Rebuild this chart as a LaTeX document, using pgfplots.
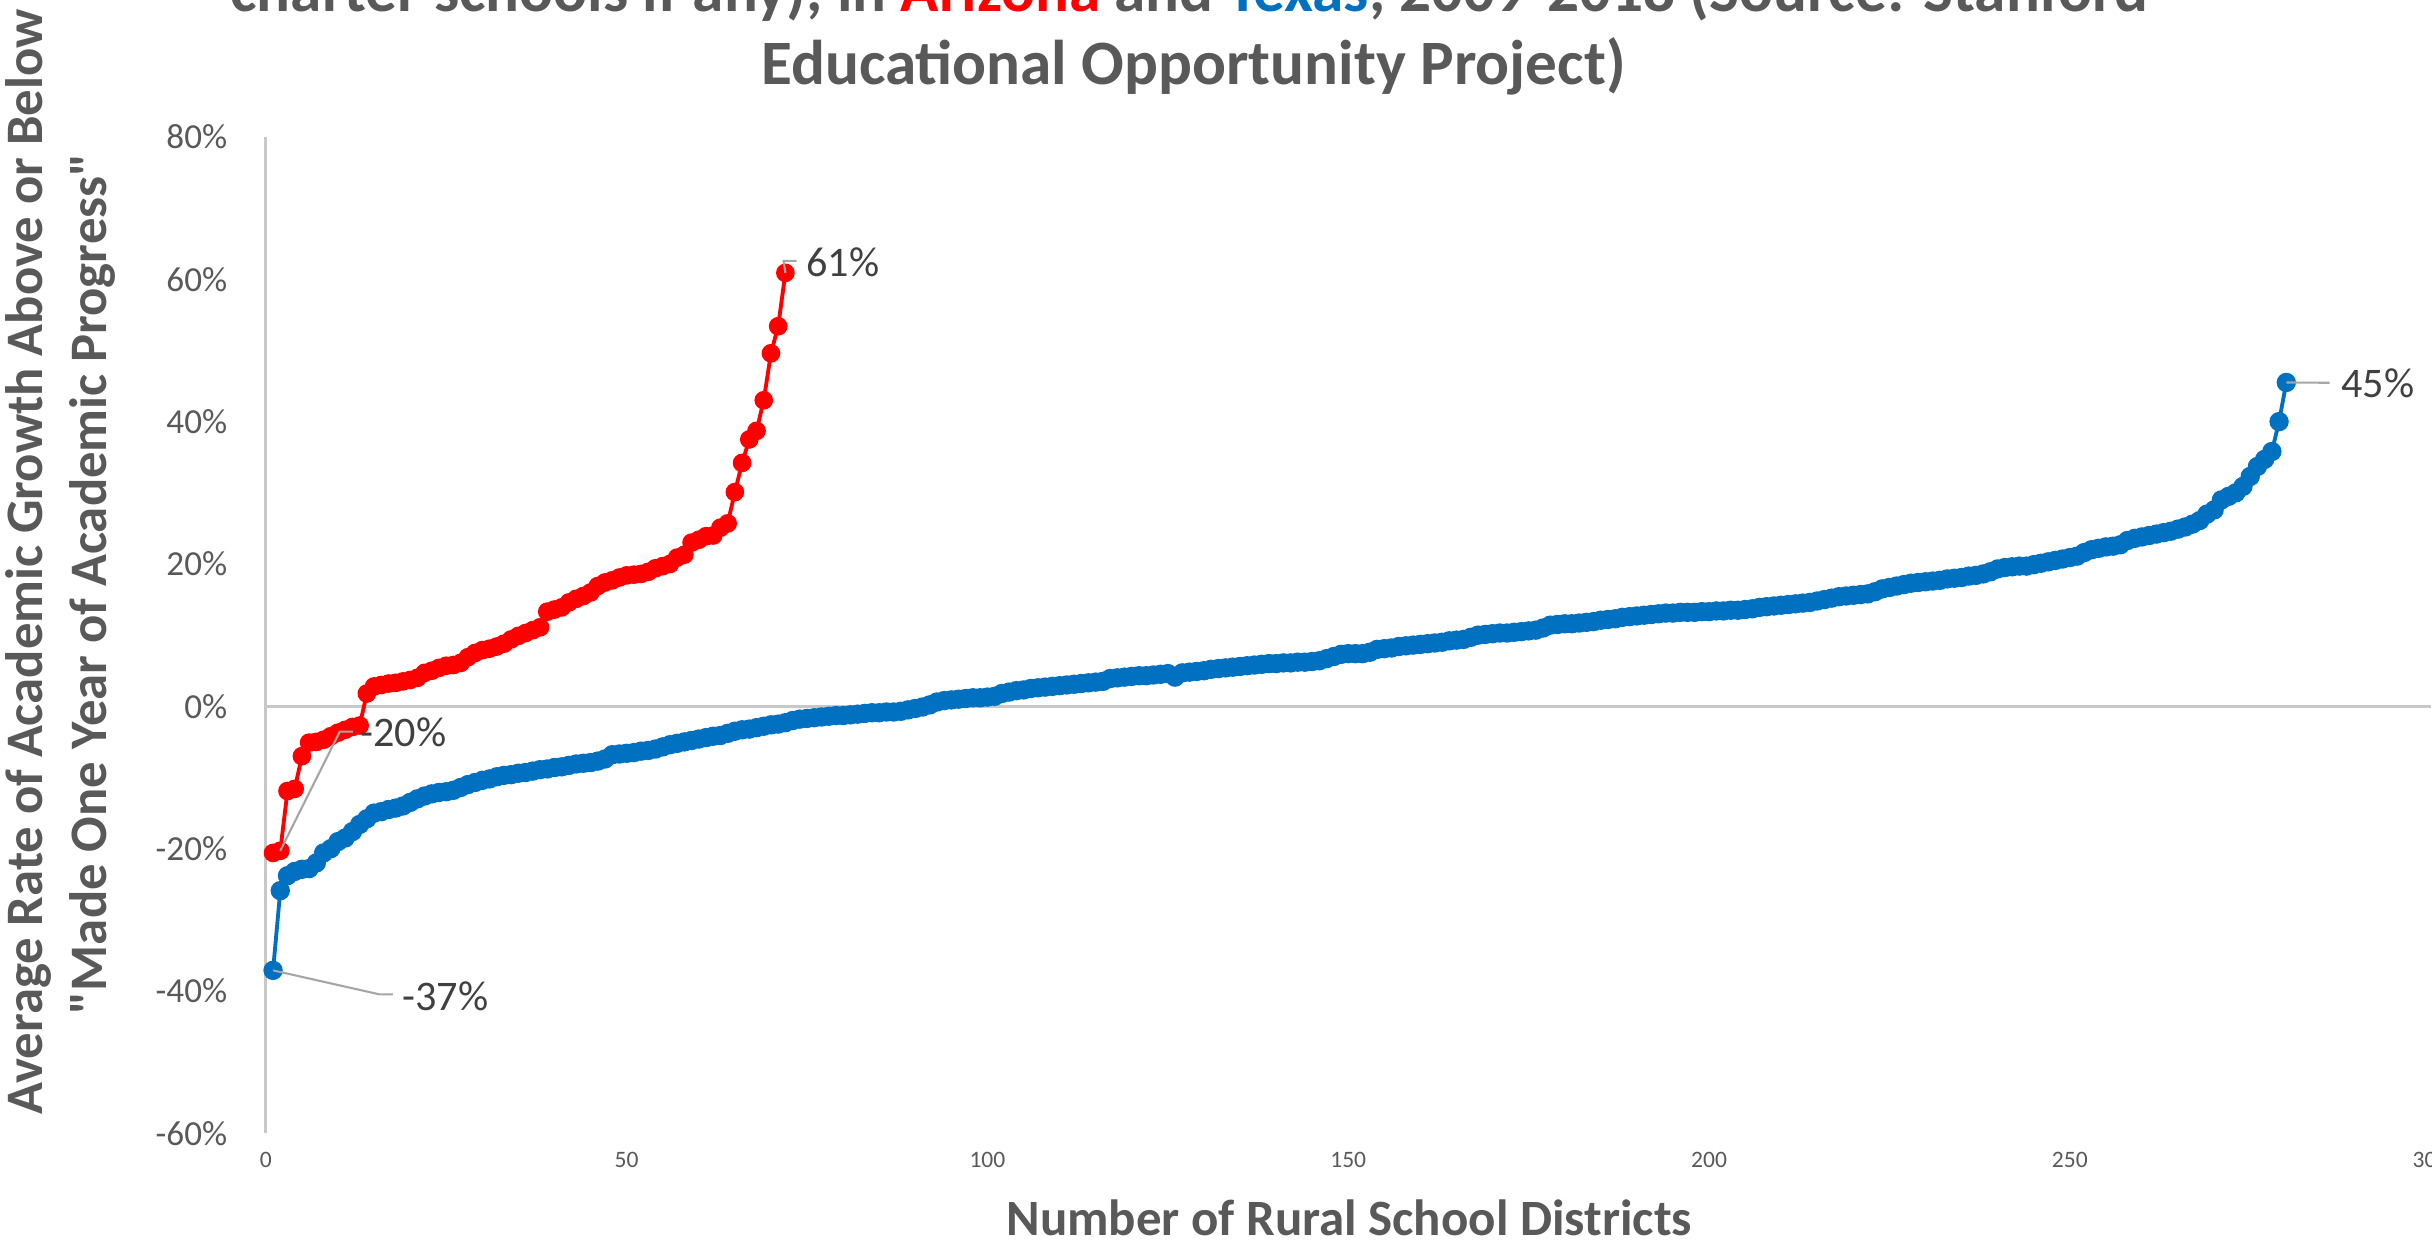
\documentclass[border=0pt]{standalone}
\usepackage{fontspec}
\setmainfont{Carlito}
\usepackage{pgfplots}
\pgfplotsset{compat=1.18}
\definecolor{azred}{RGB}{255,0,0}
\definecolor{txblue}{RGB}{0,112,192}
\definecolor{txtgray}{RGB}{89,89,89}
\definecolor{lblgray}{RGB}{64,64,64}
\definecolor{axgray}{RGB}{200,200,200}
\definecolor{leadgray}{RGB}{166,166,166}
% straight double quote, not turned into a curly one by the tex-text mapping
\newcommand\sq{\XeTeXglyph\XeTeXcharglyph"22\relax}

\begin{document}
\begin{tikzpicture}[x=0.1mm,y=0.1mm]
% page frame: everything that overhangs it is drawn as overlay and gets cut
\path (0,0) rectangle (2432,1246);
\begin{axis}[
  at={(26.6mm,11.2mm)}, anchor=south west,
  scale only axis, width=216.6mm, height=99.7mm,
  xmin=0, xmax=300, ymin=-60, ymax=80,
  clip=false,
  axis line style={draw=none},
  major tick length=0pt,
  xtick={0,50,...,300},
  xticklabels={0,50,100,150,200,250,300},
  ytick={-60,-40,...,80},
  yticklabels={-60\%,-40\%,-20\%,0\%,20\%,40\%,60\%,80\%},
  yticklabel style={font=\fontsize{10}{12}\selectfont, text=txtgray, anchor=east, inner sep=0pt, xshift=-10.8pt},
  xticklabel style={overlay, font=\fontsize{6.7}{8}\selectfont, text=txtgray, anchor=north, inner sep=0pt, yshift=-5.3pt},
]
% axis lines
\draw[axgray, line width=0.8pt] (axis cs:0,-60) -- (axis cs:0,80);
\draw[axgray, line width=0.8pt] (axis cs:0,0) -- (axis cs:300,0);

% Arizona
\addplot[azred, line width=1.1pt, mark=*, mark size=2.1pt, mark options={solid}] coordinates {
(1,-20.6)(2,-20.3)(3,-11.9)(4,-11.6)(5,-7.0)(6,-5.1)(7,-5.0)(8,-4.7)(9,-4.2)(10,-3.7)
(11,-3.3)(12,-2.9)(13,-2.7)(14,1.8)(15,2.8)(16,3.0)(17,3.2)(18,3.3)(19,3.5)(20,3.7)
(21,4.0)(22,4.7)(23,5.0)(24,5.4)(25,5.7)(26,5.8)(27,6.1)(28,6.9)(29,7.5)(30,7.9)
(31,8.1)(32,8.4)(33,8.8)(34,9.4)(35,9.9)(36,10.3)(37,10.7)(38,11.1)(39,13.3)(40,13.6)
(41,13.9)(42,14.6)(43,15.1)(44,15.5)(45,16.0)(46,16.9)(47,17.4)(48,17.7)(49,18.1)(50,18.4)
(51,18.5)(52,18.6)(53,18.9)(54,19.4)(55,19.7)(56,20.0)(57,20.9)(58,21.3)(59,23.0)(60,23.4)
(61,23.9)(62,24.0)(63,25.1)(64,25.7)(65,30.1)(66,34.2)(67,37.5)(68,38.7)(69,43.0)(70,49.6)
(71,53.4)(72,60.9)
};
\coordinate (a2) at (axis cs:2,-20.3);
\coordinate (a72) at (axis cs:72,60.9);

% Texas
\addplot[txblue, line width=1.1pt, mark=*, mark size=2.2pt, mark options={solid}] coordinates {
(1,-37.1)(2,-25.9)(3,-23.8)(4,-23.2)(5,-22.9)(6,-22.8)(7,-22.0)(8,-20.6)(9,-20.0)(10,-19.0)
(11,-18.5)(12,-17.6)(13,-16.6)(14,-15.8)(15,-15.0)(16,-14.8)(17,-14.5)(18,-14.3)(19,-14.0)(20,-13.5)
(21,-13.0)(22,-12.6)(23,-12.3)(24,-12.1)(25,-12.0)(26,-11.8)(27,-11.4)(28,-11.0)(29,-10.7)(30,-10.4)
(31,-10.2)(32,-9.9)(33,-9.7)(34,-9.6)(35,-9.4)(36,-9.3)(37,-9.1)(38,-8.9)(39,-8.8)(40,-8.6)
(41,-8.5)(42,-8.3)(43,-8.1)(44,-8.0)(45,-7.9)(46,-7.7)(47,-7.4)(48,-6.8)(49,-6.7)(50,-6.6)
(51,-6.5)(52,-6.3)(53,-6.2)(54,-6.0)(55,-5.7)(56,-5.4)(57,-5.2)(58,-5.0)(59,-4.8)(60,-4.6)
(61,-4.4)(62,-4.2)(63,-4.1)(64,-3.8)(65,-3.5)(66,-3.3)(67,-3.2)(68,-3.0)(69,-2.8)(70,-2.6)
(71,-2.5)(72,-2.3)(73,-2.0)(74,-1.8)(75,-1.7)(76,-1.6)(77,-1.5)(78,-1.4)(79,-1.3)(80,-1.3)
(81,-1.2)(82,-1.1)(83,-1.0)(84,-0.9)(85,-0.9)(86,-0.8)(87,-0.8)(88,-0.7)(89,-0.5)(90,-0.3)
(91,-0.1)(92,0.2)(93,0.6)(94,0.8)(95,0.9)(96,1.0)(97,1.1)(98,1.2)(99,1.2)(100,1.3)
(101,1.4)(102,1.8)(103,2.0)(104,2.2)(105,2.3)(106,2.5)(107,2.6)(108,2.7)(109,2.8)(110,2.9)
(111,3.0)(112,3.1)(113,3.2)(114,3.3)(115,3.4)(116,3.5)(117,3.9)(118,4.0)(119,4.1)(120,4.2)
(121,4.3)(122,4.3)(123,4.4)(124,4.5)(125,4.6)(126,4.1)(127,4.7)(128,4.8)(129,4.9)(130,5.0)
(131,5.2)(132,5.3)(133,5.4)(134,5.5)(135,5.6)(136,5.7)(137,5.8)(138,5.9)(139,6.0)(140,6.0)
(141,6.1)(142,6.1)(143,6.2)(144,6.2)(145,6.3)(146,6.4)(147,6.7)(148,7.0)(149,7.3)(150,7.4)
(151,7.4)(152,7.4)(153,7.6)(154,8.0)(155,8.1)(156,8.2)(157,8.4)(158,8.5)(159,8.6)(160,8.7)
(161,8.8)(162,8.9)(163,9.0)(164,9.2)(165,9.3)(166,9.4)(167,9.7)(168,10.0)(169,10.1)(170,10.2)
(171,10.3)(172,10.3)(173,10.4)(174,10.5)(175,10.6)(176,10.7)(177,11.0)(178,11.4)(179,11.5)(180,11.6)
(181,11.6)(182,11.7)(183,11.8)(184,11.9)(185,12.1)(186,12.2)(187,12.3)(188,12.5)(189,12.6)(190,12.7)
(191,12.8)(192,12.9)(193,13.0)(194,13.1)(195,13.1)(196,13.2)(197,13.2)(198,13.2)(199,13.3)(200,13.3)
(201,13.4)(202,13.4)(203,13.5)(204,13.5)(205,13.6)(206,13.7)(207,13.9)(208,14.0)(209,14.1)(210,14.2)
(211,14.3)(212,14.4)(213,14.5)(214,14.6)(215,14.8)(216,15.0)(217,15.2)(218,15.4)(219,15.5)(220,15.6)
(221,15.7)(222,15.8)(223,16.1)(224,16.5)(225,16.7)(226,16.9)(227,17.1)(228,17.3)(229,17.4)(230,17.5)
(231,17.6)(232,17.7)(233,17.9)(234,18.0)(235,18.1)(236,18.3)(237,18.4)(238,18.6)(239,18.9)(240,19.3)
(241,19.5)(242,19.6)(243,19.7)(244,19.7)(245,19.9)(246,20.1)(247,20.3)(248,20.5)(249,20.7)(250,20.9)
(251,21.1)(252,21.6)(253,22.0)(254,22.2)(255,22.4)(256,22.5)(257,22.7)(258,23.3)(259,23.6)(260,23.8)
(261,24.0)(262,24.2)(263,24.4)(264,24.6)(265,24.9)(266,25.2)(267,25.6)(268,26.1)(269,27.0)(270,27.6)
(271,29.0)(272,29.5)(273,30.0)(274,30.9)(275,32.3)(276,33.7)(277,34.7)(278,35.8)(279,40.0)(280,45.5)
};
\coordinate (t1) at (axis cs:1,-37.1);
\coordinate (t280) at (axis cs:280,45.5);
\end{axis}

% data labels
\draw[leadgray, line width=0.6pt] (t1) -- (380,251) -- (393,251);
\node[anchor=west, inner sep=0pt, font=\fontsize{12}{14}\selectfont, text=lblgray] at (402,249) {-37\%};
\draw[leadgray, line width=0.6pt] (a2) -- (340,514) -- (353,514);
\node[anchor=west, inner sep=0pt, font=\fontsize{12}{14}\selectfont, text=lblgray] at (360,513) {-20\%};
\draw[leadgray, line width=0.6pt] (a72) -- (784,985) -- (797,985);
\node[anchor=west, inner sep=0pt, font=\fontsize{12}{14}\selectfont, text=lblgray] at (806,984) {61\%};
\draw[leadgray, line width=0.6pt] (t280) -- (2331,863);
\node[anchor=west, inner sep=0pt, font=\fontsize{12}{14}\selectfont, text=lblgray] at (2342,862) {45\%};

% title (first line runs off the top of the page, as in the source)
\node[overlay, anchor=base, inner sep=0pt, font=\fontsize{18}{21.6}\selectfont\bfseries, text=txtgray] at (1190,1234)
  {charter schools if any), in \textcolor{azred}{Arizona} and \textcolor{txblue}{Texas}, 2009-2018 (Source: Stanford};
\node[anchor=base, inner sep=0pt, font=\fontsize{18}{21.6}\selectfont\bfseries, text=txtgray] at (1194,1161)
  {Educational Opportunity Project)};

% axis titles
\node[anchor=base, inner sep=0pt, font=\fontsize{14.5}{17}\selectfont\bfseries, text=txtgray] at (1350,10)
  {Number of Rural School Districts};
\node[overlay, rotate=90, anchor=base, inner sep=0pt, font=\fontsize{15}{18}\selectfont\bfseries, text=txtgray] at (43,684)
  {Average Rate of Academic Growth Above or Below};
\node[overlay, rotate=90, anchor=base, inner sep=0pt, font=\fontsize{15}{18}\selectfont\bfseries, text=txtgray] at (107,662)
  {\sq Made One Year of Academic Progress\sq};
\end{tikzpicture}
\end{document}
